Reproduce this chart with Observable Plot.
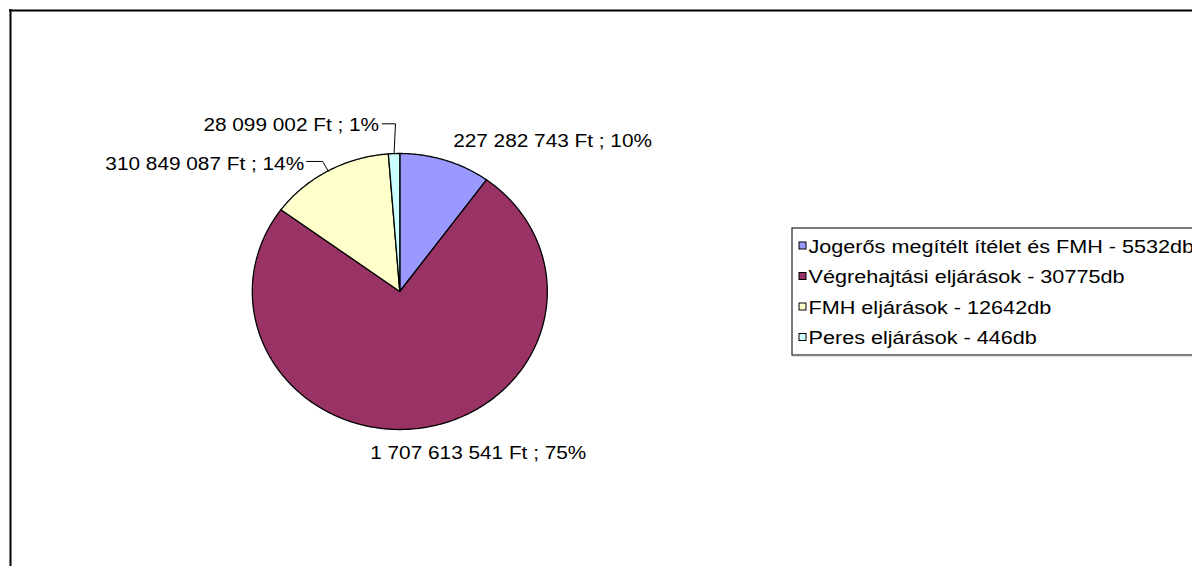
<!DOCTYPE html>
<html><head><meta charset="utf-8">
<script src="https://cdn.jsdelivr.net/npm/d3@7"></script>
<script src="https://cdn.jsdelivr.net/npm/@observablehq/plot@0.6"></script>
<style>body{margin:0;background:#fff;} #chart svg{display:block;}</style>
</head><body><div id="chart"></div>
<script>
// ---- data ----
const categories = ["Jogerős megítélt ítélet és FMH", "Végrehajtási eljárások", "FMH eljárások", "Peres eljárások"];
const counts = [5532, 30775, 12642, 446];
const amounts = [227282743, 1707613541, 310849087, 28099002];
const colors = ["#9999FF", "#993366", "#FFFFCC", "#CCFFFF"];

// ---- layout ----
const W = 1192, H = 566;
const pie = {cx: 399.3, cy: 291, rx: 147.5, ry: 138};
const font = "Liberation Sans, Arial, sans-serif";
// label placement relative to the slice's mid-angle edge point
const labelLayout = [
  {dx: 7.8, dy: -13.1, anchor: "start"},
  {dx: 55.8, dy: 31, anchor: "middle"},
  {dx: -24, dy: -1.1, anchor: "end", leader: [[-21.6, -9.4], [-5.6, -9.4]]},
  {dx: -15, dy: -22.4, anchor: "end", leader: [[-11.9, -29.8], [1.4, -29.8]]}
];
const legend = {x0: 792, y0: 228, y1: 355, swX: 799, swSize: 7, textX: 808, base0: 252, step: 30.5};
const stretch = {label: 1.155, legend: 1.235};

// ---- computed ----
const total = d3.sum(amounts);
const arcs = d3.pie().sort(null).value(d => d)(amounts);
const edge = a => [pie.cx + pie.rx * Math.sin(a), pie.cy - pie.ry * Math.cos(a)];
const fmt = v => d3.format(",")(v).replace(/,/g, " ");

const slicePts = [];
arcs.forEach((a, i) => {
  const name = categories[i];
  const n = Math.max(2, Math.ceil((a.endAngle - a.startAngle) / (Math.PI / 360)));
  slicePts.push({name, x: pie.cx, y: pie.cy});
  for (let j = 0; j <= n; j++) {
    const t = a.startAngle + (a.endAngle - a.startAngle) * j / n;
    const [x, y] = edge(t);
    slicePts.push({name, x, y});
  }
  slicePts.push({name, x: pie.cx, y: pie.cy});
});

const labels = arcs.map((a, i) => {
  const [ex, ey] = edge((a.startAngle + a.endAngle) / 2);
  const L = labelLayout[i];
  return {
    text: `${fmt(amounts[i])} Ft ; ${Math.round(amounts[i] / total * 100)}%`,
    x: ex + L.dx, y: ey + L.dy, anchor: L.anchor, ex, ey, L
  };
});
const leaderPts = [];
labels.forEach((l, i) => {
  if (!l.L.leader) return;
  l.L.leader.forEach(([dx, dy]) => leaderPts.push({i, x: l.ex + dx, y: l.ey + dy}));
  leaderPts.push({i, x: l.ex, y: l.ey});
});

const legendRows = categories.map((c, i) => ({
  name: c,
  text: `${c} - ${counts[i]}db`,
  base: legend.base0 + i * legend.step
}));

const labelMark = anchor => Plot.text(labels.filter(d => d.anchor === anchor), {
  x: "x", y: "y", text: "text", textAnchor: anchor, lineAnchor: "bottom",
  fontSize: 18, fontFamily: font, fill: "#000"
});

const chart = Plot.plot({
  width: W, height: H,
  margin: 0,
  x: {domain: [0, W], range: [0, W], axis: null},
  y: {domain: [0, H], range: [0, H], axis: null},
  color: {domain: categories, range: colors},
  style: {fontFamily: font, background: "#fff"},
  marks: [
    // outer frame
    Plot.ruleY([10], {x1: 9, x2: W, stroke: "#000", strokeWidth: 2}),
    Plot.ruleX([10], {y1: 9, y2: H, stroke: "#000", strokeWidth: 2}),
    // pie slices
    Plot.line(slicePts, {x: "x", y: "y", z: "name", fill: "name", stroke: "#000", strokeWidth: 1.3, strokeLinejoin: "round"}),
    // leader lines
    Plot.line(leaderPts, {x: "x", y: "y", z: "i", stroke: "#000", strokeWidth: 1}),
    // data labels
    labelMark("start"), labelMark("middle"), labelMark("end"),
    // legend box
    Plot.rect([0], {x1: legend.x0, x2: W + 20, y1: legend.y0, y2: legend.y1, fill: "#fff", stroke: "#222", strokeWidth: 1.2}),
    Plot.ruleY([legend.y1], {x1: legend.x0, x2: W, stroke: "#808080", strokeWidth: 1.6}),
    Plot.rect(legendRows, {x1: legend.swX, x2: legend.swX + legend.swSize, y1: d => d.base - 10, y2: d => d.base - 10 + legend.swSize,
      fill: "name", stroke: "#000", strokeWidth: 1}),
    Plot.text(legendRows, {x: legend.textX, y: "base", text: "text", textAnchor: "start", lineAnchor: "bottom",
      fontSize: 17.5, fontFamily: font, fill: "#000"})
  ]
});
document.getElementById("chart").append(chart);
// widen glyphs horizontally to match the stretched rendering of the original
const widen = (sel, f) => d3.select(chart).selectAll(sel).each(function () {
  const len = this.getComputedTextLength();
  this.setAttribute("textLength", (len * f).toFixed(1));
  this.setAttribute("lengthAdjust", "spacingAndGlyphs");
});
widen('g[font-size="18"] text', stretch.label);
widen('g[font-size="17.5"] text', stretch.legend);
</script>
</body></html>
